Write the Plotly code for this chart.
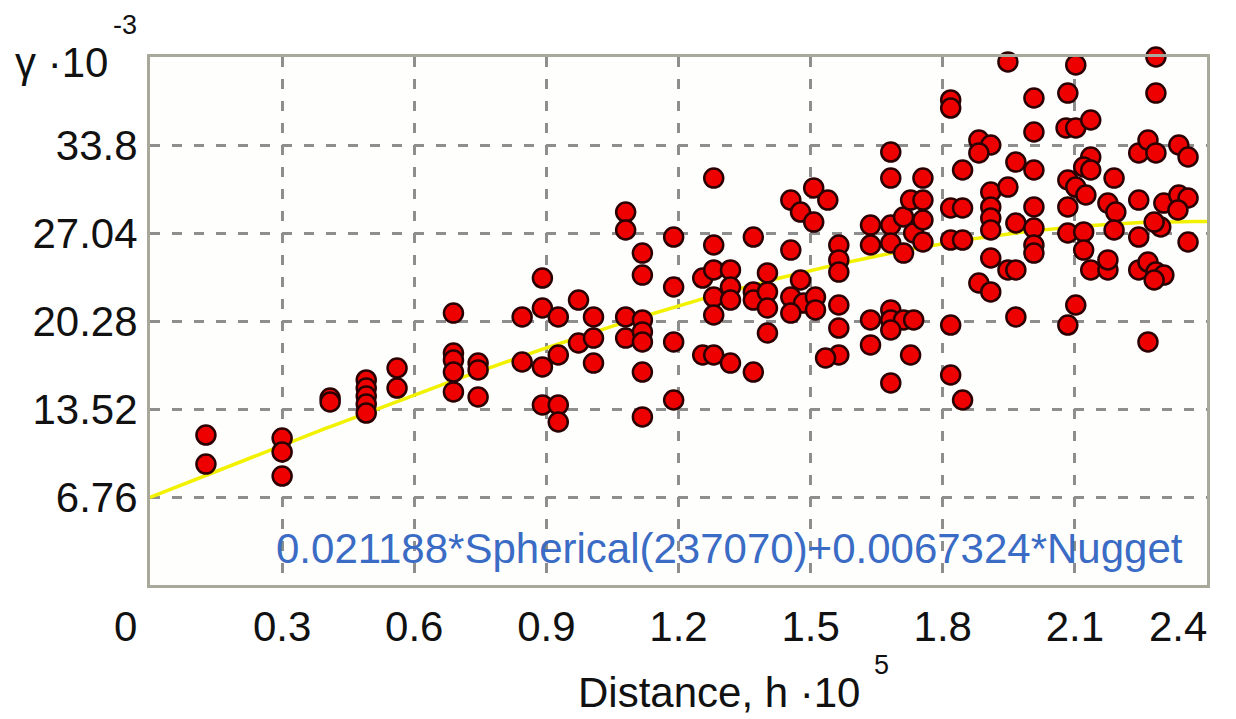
import numpy as np
import plotly.graph_objects as go

# Experimental semivariogram points (distance in 1e5 units, gamma in 1e-3 units)
dist = [0.127, 0.127,
        0.300, 0.300, 0.300,
        0.409, 0.409,
        0.491, 0.491, 0.491, 0.491, 0.491,
        0.561, 0.561,
        0.689, 0.689, 0.689, 0.689, 0.689,
        0.745, 0.745, 0.745,
        0.845, 0.845,
        0.891, 0.891, 0.891, 0.891,
        0.927, 0.927, 0.927, 0.927,
        0.973, 0.973,
        1.007, 1.007, 1.007,
        1.080, 1.080, 1.080, 1.080,
        1.118, 1.118, 1.118, 1.118, 1.118, 1.118, 1.118,
        1.189, 1.189, 1.189, 1.189,
        1.280, 1.280, 1.255, 1.280, 1.318, 1.318, 1.280, 1.318, 1.280, 1.255, 1.280, 1.318,
        1.370, 1.370, 1.370, 1.402, 1.402, 1.402, 1.402, 1.370,
        1.455, 1.507, 1.539, 1.477, 1.507, 1.455, 1.477, 1.455, 1.484, 1.511, 1.455, 1.511,
        1.564, 1.564, 1.564, 1.564, 1.564, 1.564, 1.534,
        1.636, 1.636, 1.682, 1.682, 1.682, 1.682, 1.711, 1.727, 1.755, 1.734, 1.711, 1.755, 1.755, 1.755,
        1.636, 1.682, 1.682, 1.711, 1.734, 1.682, 1.636, 1.727, 1.682,
        1.818, 1.818, 1.882, 1.909, 1.882, 1.845, 1.909, 1.909, 1.909, 1.909,
        1.818, 1.845, 1.818, 1.845, 1.909, 1.882, 1.909, 1.818, 1.818, 1.845,
        1.948, 1.966, 1.966, 1.948, 1.966, 1.966, 1.948,
        2.007, 2.007, 2.007, 2.007, 2.007, 2.007, 2.007,
        2.102, 2.084, 2.080, 2.102, 2.136, 2.136, 2.120, 2.136, 2.084, 2.102, 2.125, 2.084,
        2.084, 2.120, 2.120, 2.136, 2.175, 2.175, 2.102, 2.084,
        2.189, 2.175, 2.193, 2.189,
        2.284, 2.284, 2.245, 2.266, 2.284, 2.336, 2.357, 2.245, 2.302, 2.336, 2.357, 2.334,
        2.295, 2.280, 2.245, 2.357, 2.245, 2.266, 2.284, 2.302, 2.280, 2.266]

gamma = [11.52, 9.29,
         11.29, 10.22, 8.37,
         14.36, 14.06,
         15.75, 15.13, 14.52, 13.90, 13.21,
         16.67, 15.13,
         20.89, 17.82, 17.28, 16.36, 14.83,
         17.05, 16.52, 14.44,
         20.59, 17.13,
         23.58, 21.28, 16.75, 13.83,
         20.59, 17.67, 13.83, 12.52,
         21.89, 18.59,
         20.59, 18.97, 17.05,
         28.65, 27.27, 20.59, 18.97,
         25.50, 23.81, 20.36, 19.44, 18.67, 16.36, 12.91,
         26.73, 22.89, 18.67, 14.21,
         31.26, 26.12, 23.58, 24.20, 24.20, 22.89, 22.12, 21.89, 20.74, 17.67, 17.67, 17.05,
         26.73, 22.51, 21.89, 23.97, 22.51, 21.28, 19.36, 16.36,
         29.57, 30.50, 29.57, 28.65, 27.88, 25.73, 23.43, 22.12, 21.66, 22.12, 20.89, 21.13,
         26.12, 24.97, 24.04, 21.51, 19.74, 17.67, 17.44,
         27.65, 26.12, 33.26, 31.26, 27.65, 26.27, 28.27, 29.57, 29.57, 27.04, 25.50, 31.26, 28.04, 26.35,
         20.36, 21.13, 20.36, 20.36, 20.36, 19.59, 18.44, 17.67, 15.52,
         37.26, 36.64, 34.18, 33.80, 33.19, 31.88, 30.19, 29.04, 28.19, 27.27,
         28.96, 28.96, 26.50, 26.50, 25.12, 23.20, 22.51, 19.97, 16.13, 14.21,
         30.57, 32.49, 27.81, 24.20, 24.20, 20.59, 40.18,
         37.41, 34.80, 31.88, 29.04, 27.42, 26.12, 25.50,
         39.95, 37.79, 35.11, 35.11, 35.72, 32.88, 32.11, 31.88, 31.11, 30.57, 29.96, 29.04,
         27.04, 27.12, 25.73, 24.20, 24.20, 24.97, 21.51, 19.97,
         31.26, 29.34, 28.65, 27.27,
         40.56, 37.79, 33.19, 34.18, 33.19, 33.80, 32.88, 29.57, 29.34, 29.96, 29.73, 28.81,
         27.50, 27.88, 26.73, 26.35, 24.20, 24.81, 24.04, 23.81, 23.43, 18.67]

# Fitted model, as printed on the chart: 0.021188*Spherical(237070)+0.0067324*Nugget
sill = 21.188         # partial sill (1e-3)
model_range = 2.3707  # range (1e5)
nugget = 6.7324       # nugget (1e-3)

x_ticks = [0.3, 0.6, 0.9, 1.2, 1.5, 1.8, 2.1]
x_tick_text = ["0.3", "0.6", "0.9", "1.2", "1.5", "1.8", "2.1"]
x_edge_ticks = [0, 2.4]            # end labels, drawn pulled inward as in the original
x_edge_text = ["0", "2.4"]
y_ticks = [6.76, 13.52, 20.28, 27.04, 33.8]
y_tick_text = ["6.76", "13.52", "20.28", "27.04", "33.8"]

h = np.linspace(0, 2.4, 241)
r = np.minimum(h / model_range, 1.0)
model = nugget + sill * (1.5 * r - 0.5 * r ** 3)

FONT = "Liberation Sans, Arial, sans-serif"

fig = go.Figure()
fig.add_trace(go.Scatter(
    x=h, y=model, mode="lines",
    line=dict(color="#f2f200", width=3.5),
    hoverinfo="skip", showlegend=False, cliponaxis=True))
fig.add_trace(go.Scatter(
    x=dist, y=gamma, mode="markers",
    marker=dict(size=19, color="#ee0000", line=dict(color="#2a0000", width=2.5)),
    showlegend=False, cliponaxis=False))

grid = dict(showgrid=True, gridcolor="#8e8e8e", gridwidth=2.5, griddash="10px,12px",
            zeroline=False, showline=True, linecolor="#a9a99b", linewidth=3, mirror=True,
            ticks="", tickfont=dict(family=FONT, size=42, color="#111111"))

fig.update_xaxes(range=[0, 2.4], tickvals=x_ticks, ticktext=x_tick_text,
                 ticklabelstandoff=3, **grid)
fig.update_yaxes(range=[0, 40.56], tickvals=y_ticks, ticktext=y_tick_text,
                 ticklabelstandoff=1, **grid)

annotations = [
    dict(text="0.021188*Spherical(237070)+0.0067324*Nugget", xref="paper", yref="paper",
         x=0.979, y=0.070, xanchor="right", yanchor="middle", showarrow=False,
         font=dict(family=FONT, size=42, color="#3a6bc5")),
    dict(text="γ ·10", xref="paper", yref="paper", x=-0.0378, y=0.9905,
         xanchor="right", yanchor="middle", showarrow=False,
         font=dict(family=FONT, size=42, color="#111111")),
    dict(text="-3", xref="paper", yref="paper", x=-0.0237, y=1.0606,
         xanchor="center", yanchor="middle", showarrow=False,
         font=dict(family=FONT, size=27, color="#111111")),
    dict(text="Distance, h ·10", xref="paper", yref="paper", x=0.6736, y=-0.2027,
         xanchor="right", yanchor="middle", showarrow=False,
         font=dict(family=FONT, size=42, color="#111111")),
    dict(text="5", xref="paper", yref="paper", x=0.6925, y=-0.1515,
         xanchor="center", yanchor="middle", showarrow=False,
         font=dict(family=FONT, size=27, color="#111111")),
]
for xv, txt, shift in zip(x_edge_ticks, x_edge_text, [-25, -29]):
    annotations.append(dict(text=txt, xref="x", yref="paper", x=xv, y=-0.0795,
                            xanchor="center", yanchor="middle", xshift=shift,
                            showarrow=False,
                            font=dict(family=FONT, size=42, color="#111111")))

fig.update_layout(
    width=1236, height=719,
    margin=dict(l=150, r=29, t=57, b=134, autoexpand=False),
    paper_bgcolor="white", plot_bgcolor="#fefefc",
    annotations=annotations,
    font=dict(family=FONT),
)

fig.write_html("out.html", config={"displayModeBar": False},
               post_script="document.body.style.margin='0';document.body.style.overflow='hidden';")
